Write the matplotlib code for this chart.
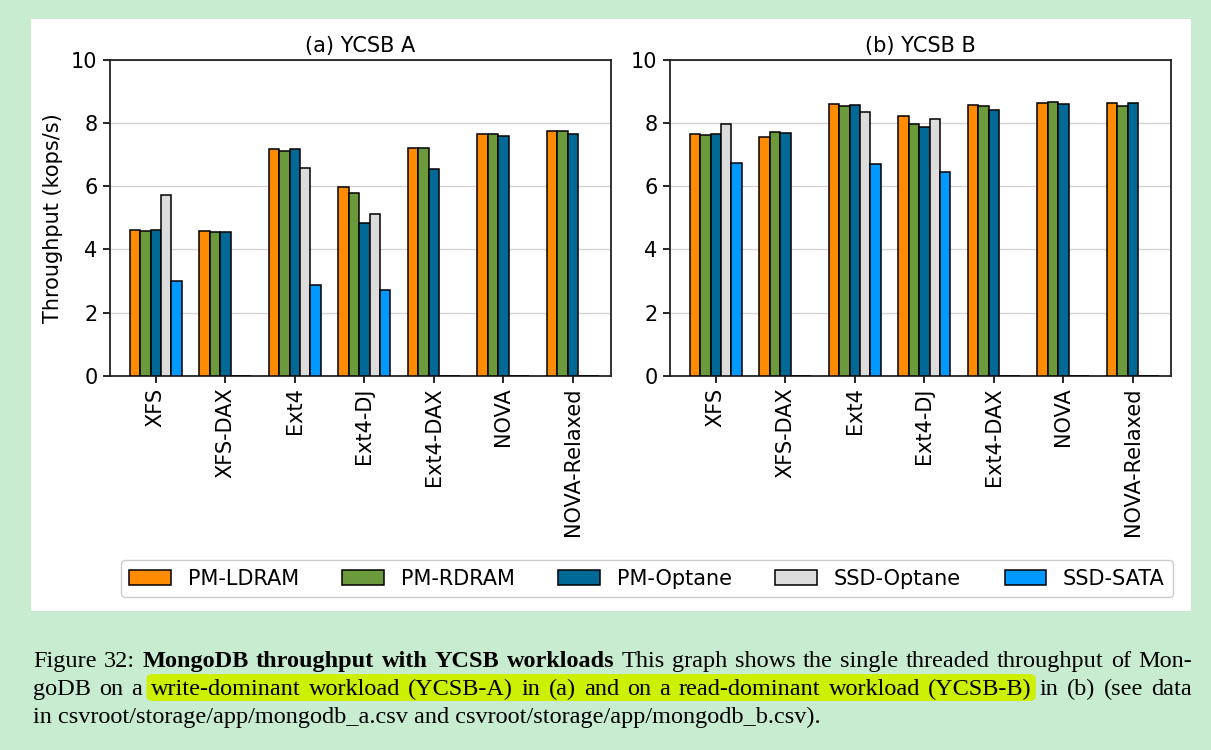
import matplotlib
matplotlib.use("Agg")
import matplotlib.pyplot as plt
import numpy as np
from matplotlib.patches import Rectangle, FancyBboxPatch

categories = ["XFS", "XFS-DAX", "Ext4", "Ext4-DJ", "Ext4-DAX", "NOVA", "NOVA-Relaxed"]
series = ["PM-LDRAM", "PM-RDRAM", "PM-Optane", "SSD-Optane", "SSD-SATA"]
colors = ["#ff8c00", "#6b9a3c", "#006995", "#dcdcdc", "#0099ff"]

ycsb_a = {
    "PM-LDRAM":   [4.63, 4.58, 7.19, 5.99, 7.22, 7.67, 7.76],
    "PM-RDRAM":   [4.59, 4.55, 7.13, 5.78, 7.21, 7.67, 7.76],
    "PM-Optane":  [4.63, 4.56, 7.18, 4.84, 6.56, 7.60, 7.67],
    "SSD-Optane": [5.72, 0.0, 6.59, 5.13, 0.0, 0.0, 0.0],
    "SSD-SATA":   [2.99, 0.0, 2.86, 2.71, 0.0, 0.0, 0.0],
}
ycsb_b = {
    "PM-LDRAM":   [7.67, 7.57, 8.61, 8.22, 8.56, 8.64, 8.65],
    "PM-RDRAM":   [7.61, 7.73, 8.53, 7.98, 8.53, 8.66, 8.55],
    "PM-Optane":  [7.66, 7.68, 8.59, 7.88, 8.42, 8.62, 8.64],
    "SSD-Optane": [7.97, 0.0, 8.36, 8.14, 0.0, 0.0, 0.0],
    "SSD-SATA":   [6.73, 0.0, 6.72, 6.45, 0.0, 0.0, 0.0],
}
titles = ["(a) YCSB A", "(b) YCSB B"]
yticks = [0, 2, 4, 6, 8, 10]

W, H = 1211, 750
fig = plt.figure(figsize=(W / 100, H / 100), dpi=100)
fig.patch.set_facecolor("#c8ecd0")
plt.rcParams['font.family'] = ['DejaVu Sans']
FS = 15

def fx(px):
    return px / W

def fy(py):
    return 1 - py / H

# white figure area
fig.patches.append(Rectangle((fx(31), fy(611)), fx(1191) - fx(31), fy(19) - fy(611),
                             transform=fig.transFigure, facecolor="white",
                             edgecolor="none", zorder=-5))

axes_px = [(110, 611), (670, 1171)]
top_px, bot_px = 60, 375.7
bw = 0.15
x = np.arange(len(categories))
handles = []
for k, (data, (l, r)) in enumerate(zip([ycsb_a, ycsb_b], axes_px)):
    ax = fig.add_axes([fx(l), fy(bot_px), fx(r) - fx(l), fy(top_px) - fy(bot_px)])
    for i, s in enumerate(series):
        b = ax.bar(x + (i - 2) * bw, data[s], width=bw, color=colors[i],
                   edgecolor="black", linewidth=1.1, label=s, zorder=3)
        if k == 0:
            handles.append(b)
    ax.set_ylim(0, 10)
    ax.set_xlim(-0.66, 6.55)
    ax.set_yticks(yticks)
    ax.set_xticks(x)
    ax.set_xticklabels(categories, rotation=90, fontsize=FS)
    ax.tick_params(axis="y", labelsize=FS, length=5, width=1.2, pad=4)
    ax.tick_params(axis="x", length=5, width=1.2)
    ax.grid(axis="y", color="#d3d3d3", linewidth=1.0)
    ax.set_axisbelow(True)
    for sp in ax.spines.values():
        sp.set_linewidth(1.3)
        sp.set_color("#222222")
    ax.set_title(titles[k], fontsize=FS, pad=6)
    if k == 0:
        ax.set_ylabel("Throughput (kops/s)", fontsize=FS, labelpad=6)

fig.legend(handles, series, loc="lower left",
           bbox_to_anchor=(fx(121), fy(597), fx(1173) - fx(121), fy(560) - fy(597)),
           mode="expand", ncol=5, borderaxespad=0, fontsize=FS,
           handlelength=2.0, handleheight=0.72, handletextpad=0.8,
           fancybox=True, edgecolor="#cccccc", framealpha=1.0)

# caption
fig.canvas.draw()
renderer = fig.canvas.get_renderer()
cap_font = ["Liberation Serif", "DejaVu Serif"]
cap_size = 17.5
line1 = [("Figure", "normal"), ("32:", "normal"), ("MongoDB", "bold"), ("throughput", "bold"),
         ("with", "bold"), ("YCSB", "bold"), ("workloads", "bold"), ("This", "normal"),
         ("graph", "normal"), ("shows", "normal"), ("the", "normal"), ("single", "normal"),
         ("threaded", "normal"), ("throughput", "normal"), ("of", "normal"), ("Mon-", "normal")]
line2 = [(w, "normal") for w in "goDB on a write-dominant workload (YCSB-A) in (a) and on a read-dominant workload (YCSB-B) in (b) (see data".split()]
line3 = "in csvroot/storage/app/mongodb_a.csv and csvroot/storage/app/mongodb_b.csv)."
hl_first, hl_last = 3, 13

def place_justified(words, base_px, x0=33, x1=1192):
    arts = []
    widths = []
    for w, wt in words:
        t = fig.text(0, fy(base_px), w, fontsize=cap_size, family=cap_font,
                     weight=wt, va="baseline", ha="left", zorder=5)
        widths.append(t.get_window_extent(renderer).width)
        arts.append(t)
    gap = (x1 - x0 - sum(widths)) / (len(words) - 1)
    pos = x0
    xs = []
    for t, wd in zip(arts, widths):
        t.set_x(fx(pos))
        xs.append((pos, pos + wd))
        pos += wd + gap
    return xs

place_justified(line1, 667)
xs2 = place_justified(line2, 695)
fig.text(fx(33), fy(723), line3, fontsize=cap_size, family=cap_font,
         va="baseline", ha="left", zorder=5)

hx0 = xs2[hl_first][0] - 4
hx1 = xs2[hl_last][1] + 4
fig.patches.append(FancyBboxPatch((fx(hx0), fy(701)), fx(hx1) - fx(hx0), fy(674) - fy(701),
                                  boxstyle="round,pad=0,rounding_size=0.006",
                                  transform=fig.transFigure, facecolor="#ccf000",
                                  edgecolor="none", zorder=-4))

fig.savefig("out.png", dpi=100, facecolor=fig.get_facecolor())
